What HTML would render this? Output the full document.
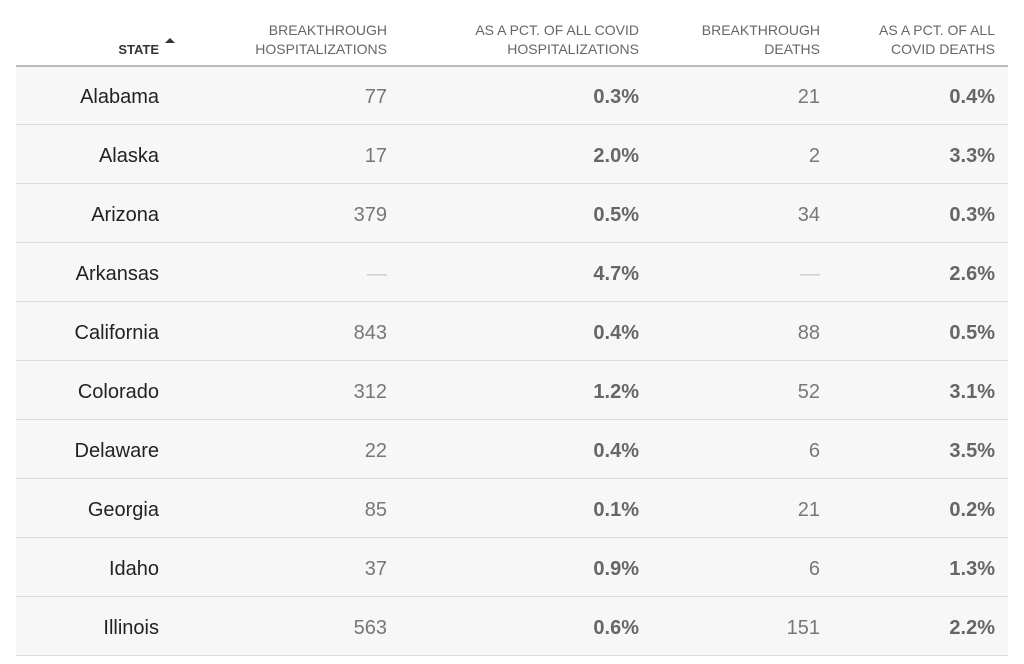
<!DOCTYPE html>
<html><head><meta charset="utf-8"><style>
body{margin:0;background:#fff;width:1024px;height:664px;overflow:hidden;font-family:"Liberation Sans",Arial,sans-serif;}
.h{position:absolute;font-size:14px;color:#666;text-align:right;line-height:19px;top:21px;}
.r{position:absolute;left:16px;width:992px;height:58px;background:#f7f7f7;border-bottom:1px solid #ddd;}
.c{position:absolute;top:0;line-height:62px;font-size:20px;text-align:right;}
</style></head><body>
<div class="h" style="right:865px;top:40px;color:#333;font-weight:bold;font-size:13px">STATE</div>
<div style="position:absolute;left:165px;top:38px;width:0;height:0;border-left:5px solid transparent;border-right:5px solid transparent;border-bottom:5px solid #333"></div>
<div class="h" style="right:637px">BREAKTHROUGH<br>HOSPITALIZATIONS</div>
<div class="h" style="right:385px">AS A PCT. OF ALL COVID<br>HOSPITALIZATIONS</div>
<div class="h" style="right:204px">BREAKTHROUGH<br>DEATHS</div>
<div class="h" style="right:29px">AS A PCT. OF ALL<br>COVID DEATHS</div>
<div id="rows"></div>
<div style="position:absolute;left:16px;top:65px;width:992px;height:2px;background:#bbb;z-index:5"></div>
<script>
var d=[["Alabama","77","0.3%","21","0.4%"],["Alaska","17","2.0%","2","3.3%"],["Arizona","379","0.5%","34","0.3%"],["Arkansas","—","4.7%","—","2.6%"],["California","843","0.4%","88","0.5%"],["Colorado","312","1.2%","52","3.1%"],["Delaware","22","0.4%","6","3.5%"],["Georgia","85","0.1%","21","0.2%"],["Idaho","37","0.9%","6","1.3%"],["Illinois","563","0.6%","151","2.2%"]];
var h="";d.forEach(function(r,i){var t=66+i*59;
function c(v,right,st){return '<div class="c" style="right:'+right+'px;'+st+'">'+v+'</div>';}
var dash='color:#ccc;';
h+='<div class="r" style="top:'+t+'px">'+c(r[0],849,'color:#222')+c(r[1],621,r[1]=="—"?dash:'color:#777')+c(r[2],369,'color:#666;font-weight:bold')+c(r[3],188,r[3]=="—"?dash:'color:#777')+c(r[4],13,'color:#666;font-weight:bold')+'</div>';});
document.getElementById("rows").innerHTML=h;
</script>
</body></html>
